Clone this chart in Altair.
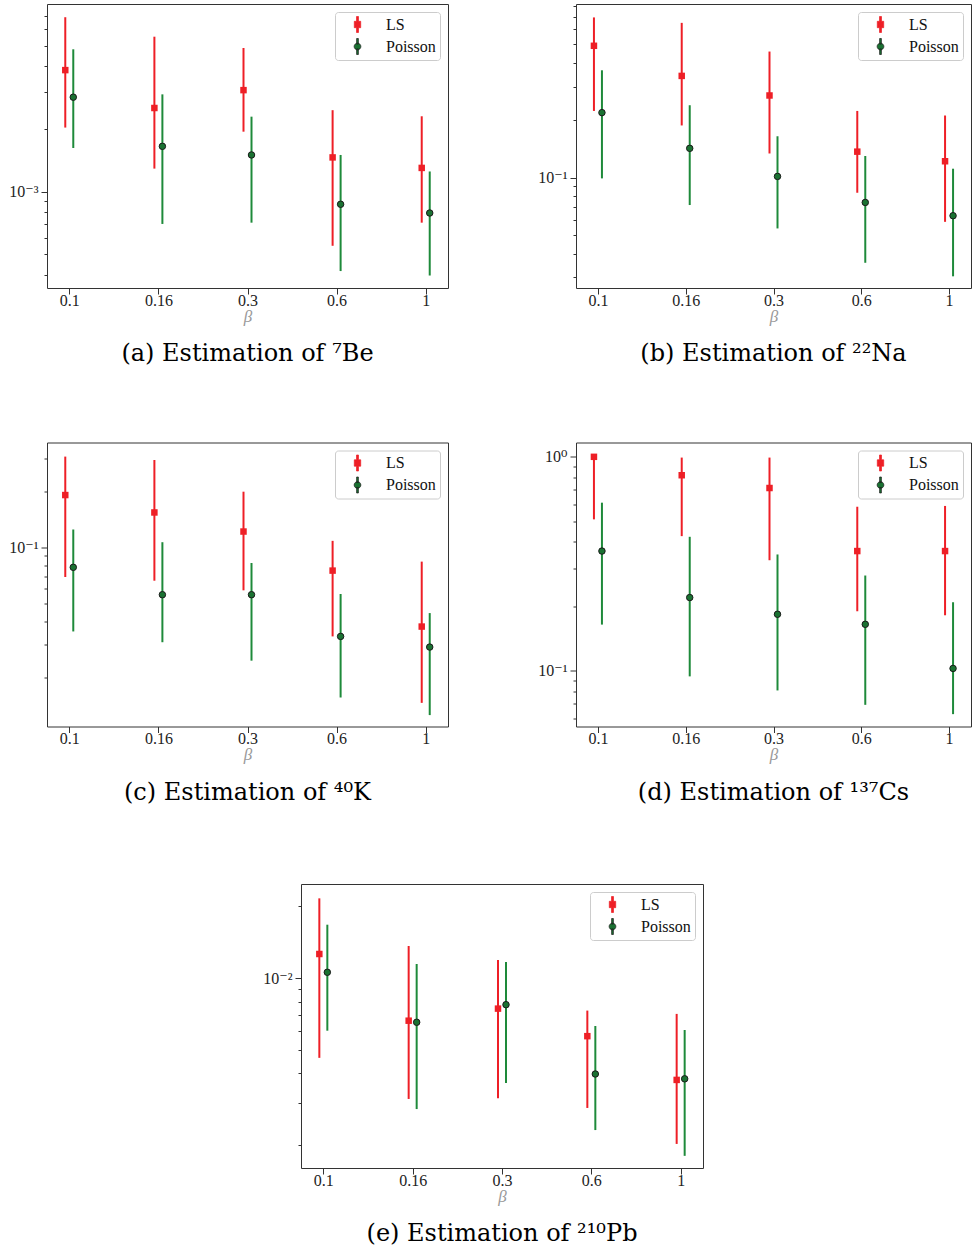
import altair as alt
import pandas as pd

SERIF = "Liberation Serif, DejaVu Serif"
CAP_FONT = "DejaVu Serif"

betas = ["0.1", "0.16", "0.3", "0.6", "1"]
methods = ["LS", "Poisson"]

# (a) 7Be
be_ls_val = [3.83e-3, 2.52e-3, 3.07e-3, 1.46e-3, 1.30e-3]
be_ls_lo = [2.03e-3, 1.29e-3, 1.94e-3, 5.5e-4, 7.1e-4]
be_ls_hi = [6.87e-3, 5.54e-3, 4.89e-3, 2.46e-3, 2.30e-3]
be_po_val = [2.84e-3, 1.65e-3, 1.50e-3, 8.7e-4, 7.9e-4]
be_po_lo = [1.62e-3, 7.0e-4, 7.1e-4, 4.16e-4, 3.96e-4]
be_po_hi = [4.82e-3, 2.93e-3, 2.29e-3, 1.50e-3, 1.25e-3]
be_ylim = [3.45e-4, 7.95e-3]

# (b) 22Na
na_ls_val = [0.492, 0.342, 0.270, 0.137, 0.122]
na_ls_lo = [0.224, 0.188, 0.134, 0.0834, 0.0587]
na_ls_hi = [0.693, 0.649, 0.459, 0.224, 0.212]
na_po_val = [0.2195, 0.1426, 0.1016, 0.0742, 0.0632]
na_po_lo = [0.0992, 0.0719, 0.0542, 0.0358, 0.0304]
na_po_hi = [0.366, 0.240, 0.165, 0.130, 0.1115]
na_ylim = [0.0264, 0.815]

# (c) 40K
k_ls_val = [0.1906, 0.1537, 0.1214, 0.0749, 0.0375]
k_ls_lo = [0.0692, 0.0661, 0.0587, 0.0332, 0.0146]
k_ls_hi = [0.3066, 0.294, 0.1987, 0.1082, 0.0837]
k_po_val = [0.0780, 0.0556, 0.0556, 0.0332, 0.0291]
k_po_lo = [0.0353, 0.0309, 0.0246, 0.0156, 0.01255]
k_po_hi = [0.1245, 0.1064, 0.0823, 0.0561, 0.0443]
k_ylim = [0.0109, 0.365]

# (d) 137Cs
cs_ls_val = [0.997, 0.818, 0.713, 0.362, 0.362]
cs_ls_lo = [0.509, 0.425, 0.328, 0.1895, 0.1815]
cs_ls_hi = [1.0, 0.989, 0.989, 0.583, 0.588]
cs_po_val = [0.362, 0.2196, 0.1835, 0.1647, 0.1025]
cs_po_lo = [0.1642, 0.0941, 0.0809, 0.0693, 0.0627]
cs_po_hi = [0.609, 0.422, 0.349, 0.2783, 0.2088]
cs_ylim = [0.0549, 1.163]

# (e) 210Pb
pb_ls_val = [1.264e-2, 6.65e-3, 7.47e-3, 5.73e-3, 3.76e-3]
pb_ls_lo = [4.65e-3, 3.13e-3, 3.15e-3, 2.87e-3, 2.03e-3]
pb_ls_hi = [2.16e-2, 1.365e-2, 1.193e-2, 7.33e-3, 7.1e-3]
pb_po_val = [1.06e-2, 6.55e-3, 7.76e-3, 3.98e-3, 3.80e-3]
pb_po_lo = [6.04e-3, 2.84e-3, 3.65e-3, 2.32e-3, 1.81e-3]
pb_po_hi = [1.676e-2, 1.148e-2, 1.17e-2, 6.32e-3, 6.08e-3]
pb_ylim = [1.61e-3, 2.48e-2]

RED = "#ee1f26"
GREEN_BAR = "#1e8a3a"
GREEN_DOT = "#1a7232"
EDGE = "#1a1a1a"

PATH_LS = "M-0.125,-1H0.125V-0.4H0.4V0.4H0.125V1H-0.125V0.4H-0.4V-0.4H-0.125Z"
PATH_PO = ("M-0.11,-1H0.11V-0.3H-0.11Z M-0.11,0.3H0.11V1H-0.11Z "
           "M0.42,0A0.42,0.42 0 1,1 -0.42,0A0.42,0.42 0 1,1 0.42,0Z")

EXP = "round(log(datum.value)/LN10)"
TEST = f"abs(log(datum.value)/LN10 - {EXP}) < 1e-6"
LABEL = (f"{TEST} ? '10' + replace(replace(replace(replace(replace(''+{EXP}, '-', '⁻'), "
         "'0', '⁰'), '1', '¹'), '2', '²'), '3', '³') : ''")


def log_ticks(lim):
    vals = []
    for k in range(-6, 2):
        for m in range(1, 10):
            v = m * 10.0 ** k
            if lim[0] <= v <= lim[1]:
                vals.append(v)
    return vals


def panel(ls_val, ls_lo, ls_hi, po_val, po_lo, po_hi, ylim, caption, width):
    df = pd.DataFrame({
        "beta": betas * 2,
        "method": ["LS"] * 5 + ["Poisson"] * 5,
        "val": ls_val + po_val,
        "lo": ls_lo + po_lo,
        "hi": ls_hi + po_hi,
    })
    xscale = alt.Scale(type="point", domain=betas, padding=0.25)
    xaxis = alt.Axis(title="β", titleFont=SERIF, titleFontSize=17, titleFontStyle="italic",
                     titleFontWeight="normal", titleColor="#999999", titlePadding=0,
                     labelAngle=0, tickSize=6, labelPadding=-2)
    yscale = alt.Scale(type="log", domain=ylim, nice=False)
    yaxis = alt.Axis(title=None, values=log_ticks(ylim), labelExpr=LABEL,
                     tickSize={"condition": {"test": TEST, "value": 6}, "value": 3},
                     labelPadding=3)
    x = alt.X("beta:O", scale=xscale, axis=xaxis, sort=betas)
    base = alt.Chart(df)
    ls = base.transform_filter("datum.method == 'LS'")
    po = base.transform_filter("datum.method == 'Poisson'")

    ls_bar = ls.mark_rule(color=RED, strokeWidth=2, xOffset=-4).encode(
        x=x, y=alt.Y("lo:Q", scale=yscale, axis=yaxis), y2="hi:Q")
    ls_pt = ls.mark_point(shape="square", filled=True, color=RED, size=42, opacity=1,
                          xOffset=-4).encode(
        x=x, y=alt.Y("val:Q", scale=yscale, axis=yaxis))
    po_bar = po.mark_rule(color=GREEN_BAR, strokeWidth=2, xOffset=4).encode(
        x=x, y=alt.Y("lo:Q", scale=yscale, axis=yaxis), y2="hi:Q")
    po_pt = po.mark_point(shape="circle", filled=True, fill=GREEN_DOT, stroke=EDGE,
                          strokeWidth=1, size=42, opacity=1, xOffset=4).encode(
        x=x, y=alt.Y("val:Q", scale=yscale, axis=yaxis))
    leg_props = dict(orient="top-right", offset=8, fillColor="white", strokeColor="#cccccc",
                     cornerRadius=3, padding=4, labelFont=SERIF, labelFontSize=16,
                     labelColor="#111111", symbolSize=256, symbolStrokeWidth=0.7,
                     rowPadding=3, labelOffset=20, symbolOffset=10)
    leg = base.transform_filter("false").mark_point(filled=True, opacity=1).encode(
        fill=alt.Fill("method:N", title=None, legend=alt.Legend(**leg_props),
                      scale=alt.Scale(domain=methods, range=[RED, GREEN_DOT])),
        stroke=alt.Stroke("method:N", title=None, legend=alt.Legend(**leg_props),
                          scale=alt.Scale(domain=methods, range=[RED, EDGE])),
        shape=alt.Shape("method:N", title=None, legend=alt.Legend(**leg_props),
                        scale=alt.Scale(domain=methods, range=[PATH_LS, PATH_PO])),
    )
    return alt.layer(ls_bar, ls_pt, po_bar, po_pt, leg).properties(
        width=width, height=284,
        title=alt.TitleParams(text=caption, orient="bottom", anchor="middle", frame="group",
                              font=CAP_FONT, fontSize=24, fontWeight="normal", color="black",
                              offset=18),
    )


a = panel(be_ls_val, be_ls_lo, be_ls_hi, be_po_val, be_po_lo, be_po_hi, be_ylim,
          "(a) Estimation of ⁷Be", 401)
b = panel(na_ls_val, na_ls_lo, na_ls_hi, na_po_val, na_po_lo, na_po_hi, na_ylim,
          "(b) Estimation of ²²Na", 395)
c = panel(k_ls_val, k_ls_lo, k_ls_hi, k_po_val, k_po_lo, k_po_hi, k_ylim,
          "(c) Estimation of ⁴⁰K", 401)
d = panel(cs_ls_val, cs_ls_lo, cs_ls_hi, cs_po_val, cs_po_lo, cs_po_hi, cs_ylim,
          "(d) Estimation of ¹³⁷Cs", 395)
e = panel(pb_ls_val, pb_ls_lo, pb_ls_hi, pb_po_val, pb_po_lo, pb_po_hi, pb_ylim,
          "(e) Estimation of ²¹⁰Pb", 402)

spacer = alt.Chart(pd.DataFrame({"s": [0]})).mark_point(opacity=0).encode(
    x=alt.value(0), y=alt.value(0)
).properties(width=214, height=10, view=alt.ViewBackground(stroke="transparent"))

IND = dict(fill="independent", stroke="independent", shape="independent")

row1 = alt.hconcat(a, b, spacing=88).resolve_scale(**IND).resolve_legend(**IND)
row2 = alt.hconcat(c, d, spacing=88).resolve_scale(**IND).resolve_legend(**IND)
row3 = alt.hconcat(spacer, e, spacing=0).resolve_scale(**IND).resolve_legend(**IND)

chart = alt.vconcat(
    row1, row2, row3,
    spacing=74.5,
).resolve_scale(**IND).resolve_legend(**IND).properties(
    padding={"left": 8, "top": 3, "right": 0, "bottom": 0},
).configure_view(
    stroke="#333333", strokeWidth=1,
).configure_axis(
    labelFont=SERIF, labelFontSize=16, labelColor="#222222", tickColor="#333333",
    tickWidth=1, domain=False, grid=False,
)

chart.save("out.html", embed_options={"renderer": "svg", "actions": False})
